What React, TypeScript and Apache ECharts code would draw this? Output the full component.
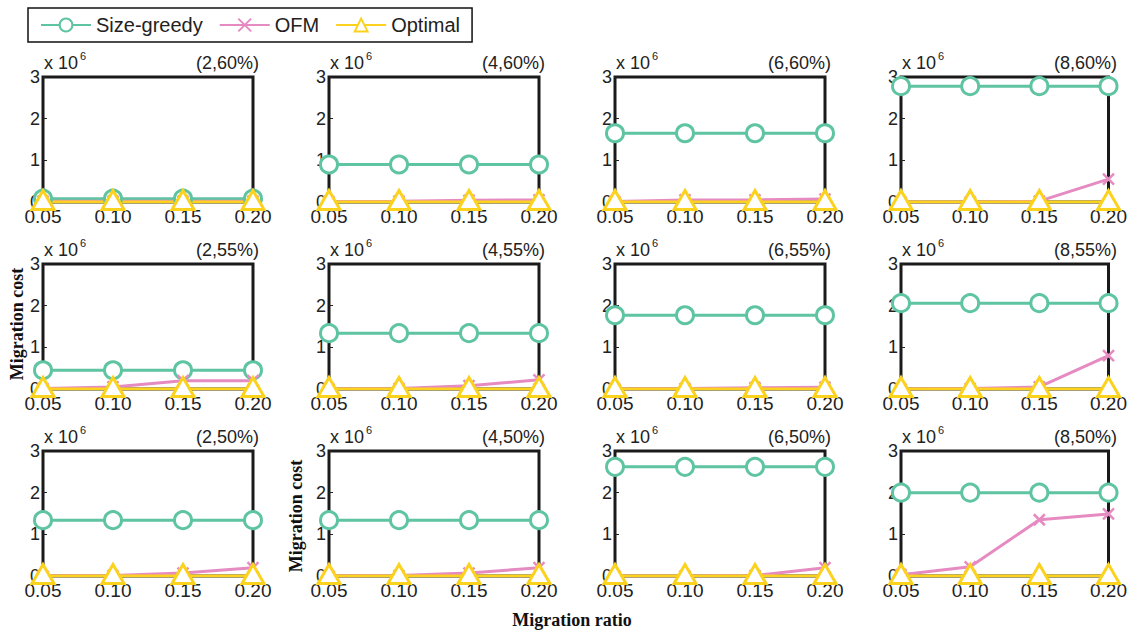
import React, { useEffect, useRef } from "react";
import * as echarts from "echarts";

const xLabels = ["0.05", "0.10", "0.15", "0.20"];
const yTicks = [0, 1, 2, 3];
const panelTitles = [
  "(2,60%)", "(4,60%)", "(6,60%)", "(8,60%)",
  "(2,55%)", "(4,55%)", "(6,55%)", "(8,55%)",
  "(2,50%)", "(4,50%)", "(6,50%)", "(8,50%)",
];
// values in units of 10^6
const sizeGreedy = [
  [0.08, 0.08, 0.08, 0.08],
  [0.9, 0.9, 0.9, 0.9],
  [1.65, 1.65, 1.65, 1.65],
  [2.78, 2.78, 2.78, 2.78],
  [0.45, 0.45, 0.45, 0.45],
  [1.34, 1.34, 1.34, 1.34],
  [1.77, 1.77, 1.77, 1.77],
  [2.06, 2.06, 2.06, 2.06],
  [1.34, 1.34, 1.34, 1.34],
  [1.34, 1.34, 1.34, 1.34],
  [2.62, 2.62, 2.62, 2.62],
  [2.0, 2.0, 2.0, 2.0],
];
const ofm = [
  [0.02, 0.02, 0.02, 0.02],
  [0.01, 0.02, 0.04, 0.05],
  [0.01, 0.05, 0.05, 0.07],
  [0.0, 0.0, 0.02, 0.55],
  [0.01, 0.05, 0.2, 0.2],
  [0.0, 0.01, 0.08, 0.22],
  [0.0, 0.01, 0.03, 0.04],
  [0.0, 0.01, 0.05, 0.8],
  [0.0, 0.01, 0.07, 0.2],
  [0.0, 0.01, 0.07, 0.2],
  [0.0, 0.0, 0.01, 0.2],
  [0.03, 0.22, 1.35, 1.49],
];
const optimal = [
  [0, 0, 0, 0], [0, 0, 0, 0], [0, 0, 0, 0], [0, 0, 0, 0],
  [0, 0, 0, 0], [0, 0, 0, 0], [0, 0, 0, 0], [0, 0, 0, 0],
  [0, 0, 0, 0], [0, 0, 0, 0], [0, 0, 0, 0], [0, 0, 0, 0],
];
const seriesNames = ["Size-greedy", "OFM", "Optimal"];

const TEAL = "#5ec4a1";
const PINK = "#e68bc1";
const YELLOW = "#fbd21e";
const SANS = "Liberation Sans, Arial, sans-serif";
const SERIF = "Liberation Serif, Times New Roman, serif";

const GRID_LEFT0 = 43;
const GRID_TOP0 = 77;
const COL_STEP = 286;
const ROW_STEP = 187;
const GRID_W = 210;
const GRID_H = 125;

export default function App() {
  const ref = useRef<HTMLDivElement>(null);
  useEffect(() => {
    if (!ref.current) return;
    const chart = echarts.init(ref.current, null, { renderer: "svg" });
    const grids: any[] = [];
    const xAxes: any[] = [];
    const yAxes: any[] = [];
    const series: any[] = [];
    const graphics: any[] = [];
    for (let i = 0; i < 12; i++) {
      const r = Math.floor(i / 4);
      const c = i % 4;
      const left = GRID_LEFT0 + c * COL_STEP;
      const top = GRID_TOP0 + r * ROW_STEP;
      grids.push({
        left, top, width: GRID_W, height: GRID_H,
        show: true, borderColor: "#1a1a1a", borderWidth: 3, backgroundColor: "#fff",
      });
      xAxes.push({
        type: "category", gridIndex: i, data: xLabels, boundaryGap: false,
        axisLine: { show: false },
        axisTick: { show: true, inside: true, length: 4, lineStyle: { color: "#222" } },
        axisLabel: { fontFamily: SANS, fontSize: 19, color: "#222", margin: 5 },
        splitLine: { show: false },
      });
      yAxes.push({
        type: "value", gridIndex: i, min: yTicks[0], max: yTicks[yTicks.length - 1], interval: 1,
        axisLine: { show: false },
        axisTick: { show: true, inside: true, length: 4, lineStyle: { color: "#222" } },
        axisLabel: { fontFamily: SANS, fontSize: 18, color: "#222", margin: 3 },
        splitLine: { show: false },
      });
      series.push({
        name: seriesNames[0], type: "line", xAxisIndex: i, yAxisIndex: i,
        data: sizeGreedy[i], symbol: "circle", symbolSize: 17,
        lineStyle: { color: TEAL, width: 3 },
        itemStyle: { color: "#fff", borderColor: TEAL, borderWidth: 3 },
      });
      series.push({
        name: seriesNames[1], type: "line", xAxisIndex: i, yAxisIndex: i,
        data: ofm[i], symbol: "path://M0,0L10,10M0,10L10,0", symbolSize: 11,
        lineStyle: { color: PINK, width: 3 },
        itemStyle: { color: PINK, borderColor: PINK, borderWidth: 2.5 },
      });
      series.push({
        name: seriesNames[2], type: "line", xAxisIndex: i, yAxisIndex: i,
        data: optimal[i], symbol: "triangle", symbolSize: [22, 19], symbolOffset: [0, -2],
        lineStyle: { color: YELLOW, width: 3 },
        itemStyle: { color: "#fff", borderColor: YELLOW, borderWidth: 3 },
      });
      graphics.push({
        type: "text", left: left + 1, top: top - 23,
        style: { text: "x 10", font: `18px ${SANS}`, fill: "#222" },
      });
      graphics.push({
        type: "text", left: left + 37, top: top - 27,
        style: { text: "6", font: `11px ${SANS}`, fill: "#222" },
      });
      graphics.push({
        type: "text", right: 1130 - (left + GRID_W + 6), top: top - 23,
        style: { text: panelTitles[i], font: `18px ${SANS}`, fill: "#222" },
      });
    }
    graphics.push({
      type: "text", x: 17, y: 324, rotation: Math.PI / 2,
      style: { text: "Migration cost", font: `bold 18px ${SERIF}`, fill: "#111", align: "center", verticalAlign: "middle" },
    });
    graphics.push({
      type: "text", x: 296, y: 516, rotation: Math.PI / 2,
      style: { text: "Migration cost", font: `bold 18px ${SERIF}`, fill: "#111", align: "center", verticalAlign: "middle" },
    });
    graphics.push({
      type: "text", x: 572, y: 620,
      style: { text: "Migration ratio", font: `bold 18px ${SERIF}`, fill: "#111", align: "center", verticalAlign: "middle" },
    });

    chart.setOption({
      animation: false,
      backgroundColor: "#fff",
      legend: {
        left: 28, top: 8,
        data: seriesNames,
        itemWidth: 50, itemHeight: 16, itemGap: 16,
        padding: [7, 12, 7, 12],
        borderColor: "#111", borderWidth: 1.5,
        textStyle: { fontFamily: SANS, fontSize: 20, color: "#222" },
      },
      grid: grids,
      xAxis: xAxes,
      yAxis: yAxes,
      series,
      graphic: graphics,
    });
    return () => chart.dispose();
  }, []);
  return (
    <div
      ref={ref}
      style={{ position: "fixed", left: 0, top: 0, width: 1130, height: 630, background: "#fff" }}
    />
  );
}
